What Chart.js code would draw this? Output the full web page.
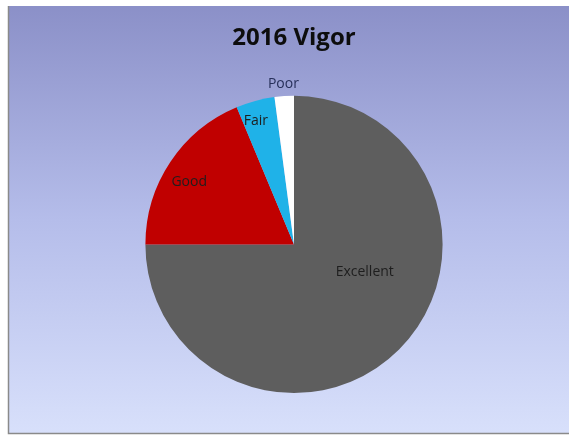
<!DOCTYPE html>
<html>
<head>
<meta charset="utf-8">
<script src="https://cdn.jsdelivr.net/npm/chart.js@4.4.1/dist/chart.umd.min.js"></script>
<style>
  html, body { margin: 0; padding: 0; background: #fff; }
  #wrap { width: 569px; height: 435px; }
</style>
</head>
<body>
<div id="wrap"><canvas id="vigorChart" width="569" height="435"></canvas></div>
<script>
// data (percent of trees)
const categories = ['Excellent', 'Good', 'Fair', 'Poor'];
const vigorShare = [75, 18.7, 4.2, 2.1];
const sliceColors = ['#5e5e5e', '#c00000', '#1fb2e8', '#ffffff'];

// where each data label sits: fraction of radius, and a small angle nudge (degrees)
const labelRadius = [0.51, 0.82, 0.87, 1.08];
const labelNudge = [-24, -3, -2, 0];

// slide background + border
const slideBackground = {
    id: 'slideBackground',
    beforeDraw(chart) {
        const c = chart.ctx;
        const g = c.createLinearGradient(0, 6, 0, 434);
        g.addColorStop(0, '#8b90c8');
        g.addColorStop(0.5, '#b5bdea');
        g.addColorStop(1, '#d8e0fb');
        c.save();
        c.fillStyle = g;
        c.fillRect(8, 6, 561, 428);
        c.strokeStyle = '#8a8a8a';
        c.lineWidth = 1.5;
        c.beginPath();
        c.moveTo(8.5, 6);
        c.lineTo(8.5, 433.5);
        c.lineTo(569, 433.5);
        c.stroke();
        c.restore();
    }
};

// category names on/near the slices
const sliceLabels = {
    id: 'sliceLabels',
    afterDatasetsDraw(chart) {
        const c = chart.ctx;
        const meta = chart.getDatasetMeta(0);
        c.save();
        c.font = '14px "Open Sans", "Liberation Sans", sans-serif';
        c.textAlign = 'center';
        c.textBaseline = 'middle';
        meta.data.forEach((arc, i) => {
            const p = arc.getProps(['x', 'y', 'startAngle', 'endAngle', 'outerRadius'], true);
            const mid = (p.startAngle + p.endAngle) / 2 + labelNudge[i] * Math.PI / 180;
            const r = p.outerRadius * labelRadius[i];
            c.fillStyle = i === 3 ? '#27305a' : '#1e1e1e';
            c.fillText(categories[i], p.x + Math.cos(mid) * r, p.y + Math.sin(mid) * r);
        });
        c.restore();
    }
};

new Chart(document.getElementById('vigorChart'), {
    type: 'pie',
    data: {
        labels: categories,
        datasets: [{
            data: vigorShare,
            backgroundColor: sliceColors,
            borderWidth: 0
        }]
    },
    options: {
        responsive: false,
        animation: false,
        layout: { padding: { top: 0, bottom: 42, left: 19, right: 0 } },
        plugins: {
            legend: { display: false },
            tooltip: { enabled: false },
            title: {
                display: true,
                text: '2016 Vigor',
                color: '#0d0d0d',
                font: { family: '"Open Sans", "Liberation Sans", sans-serif', size: 24, weight: 'bold', lineHeight: 1.2 },
                padding: { top: 24, bottom: 43 }
            }
        }
    },
    plugins: [slideBackground, sliceLabels]
});
</script>
</body>
</html>
